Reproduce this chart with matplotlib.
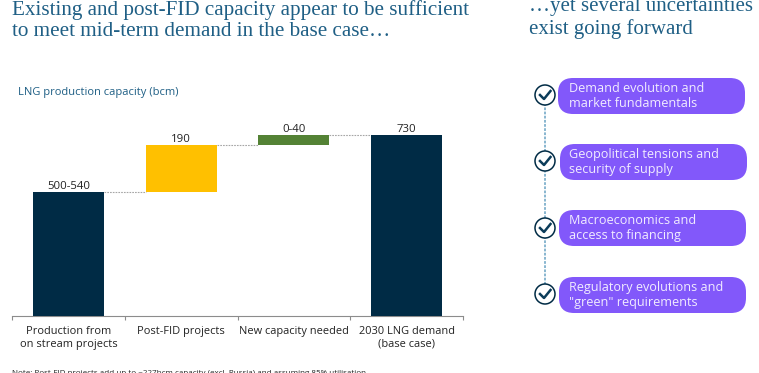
# LNG capacity waterfall with the uncertainties list on the right
import matplotlib
matplotlib.use("Agg")
import matplotlib.pyplot as plt
from matplotlib.patches import FancyBboxPatch, Circle

categories = ["Production from\non stream projects", "Post-FID projects",
              "New capacity needed", "2030 LNG demand\n(base case)"]
bottoms = [0, 500, 690, 0]
heights = [500, 190, 40, 730]
bar_labels = ["500-540", "190", "0-40", "730"]
bar_colors = ["#002B45", "#FFC000", "#548235", "#002B45"]

uncertainties = ["Demand evolution and\nmarket fundamentals",
                 "Geopolitical tensions and\nsecurity of supply",
                 "Macroeconomics and\naccess to financing",
                 "Regulatory evolutions and\n\"green\" requirements"]

title_left = "Existing and post-FID capacity appear to be sufficient\nto meet mid-term demand in the base case…"
title_right = "…yet several uncertainties\nexist going forward"
unit_label = "LNG production capacity (bcm)"
note = "Note: Post-FID projects add up to ~227bcm capacity (excl. Russia) and assuming 85% utilisation"

W, H = 759, 373
TITLE_BLUE = "#1F5F85"
PURPLE = "#8258FA"
DARK = "#002B45"
SANS = "Open Sans"
SERIF = "Liberation Serif"

fig = plt.figure(figsize=(W / 100, H / 100), dpi=100, facecolor="white")

# overlay in pixel coordinates for everything outside the bars
bg = fig.add_axes([0, 0, 1, 1])
bg.set_xlim(0, W)
bg.set_ylim(H, 0)
bg.axis("off")

# waterfall
ax = fig.add_axes([12 / W, (H - 316) / H, 451 / W, 196 / H])
xs = range(len(categories))
ax.bar(xs, heights, bottom=bottoms, width=0.63, color=bar_colors, zorder=3)
ax.set_xlim(-0.5, 3.5)
ax.set_ylim(0, 730 * 196 / 181)

for i in xs:
    top = bottoms[i] + heights[i]
    ax.text(i, top + 1, bar_labels[i], ha="center", va="bottom",
            fontsize=8.2, family=SANS, color="#222222")
    # dotted connector to the next bar
    if i < len(categories) - 1:
        ax.plot([i + 0.315, i + 1 - 0.315], [top, top], color="#A6A6A6",
                lw=0.8, ls=(0, (1.5, 1)), zorder=2)

ax.patch.set_alpha(0)
for side in ["top", "left", "right"]:
    ax.spines[side].set_visible(False)
ax.spines["bottom"].set_color("#8C8C8C")
ax.spines["bottom"].set_linewidth(0.8)
ax.set_yticks([])
ax.set_xticks([-0.5, 0.5, 1.5, 2.5, 3.5])
ax.set_xticklabels([])
ax.tick_params(axis="x", direction="out", length=3, color="#8C8C8C", width=0.8)
ax.set_xticks(list(xs), minor=True)
ax.set_xticklabels(categories, minor=True, fontsize=7.9, family=SANS, color="#222222", linespacing=1.15)
ax.tick_params(axis="x", which="minor", length=0, pad=7.5)

# titles and small texts
bg.text(12, 36.5, title_left, fontsize=15.2, family=SERIF, color=TITLE_BLUE,
        linespacing=1.17, va="baseline")
bg.text(529, 34, title_right, fontsize=15, family=SERIF, color=TITLE_BLUE,
        linespacing=1.22, va="baseline")
bg.text(18, 92.5, unit_label, fontsize=8, family=SANS, color=TITLE_BLUE, va="center")
bg.text(12, 373.5, note, fontsize=5.78, family=SANS, color="#222222", va="center")

# right hand list
pill_tops = [78, 144, 210, 277]
pill_lefts = [558, 560, 559, 559]
circle_ys = [95, 161, 228, 294]
bg.plot([545, 545], [circle_ys[0], circle_ys[-1]], color="#7FB0CC", lw=1.3, ls=(0, (1.5, 0.8)), zorder=1)

for text, top, left, cy in zip(uncertainties, pill_tops, pill_lefts, circle_ys):
    pill = FancyBboxPatch((left, top), 187, 36, boxstyle="round,pad=0,rounding_size=15",
                          facecolor=PURPLE, edgecolor="none", zorder=2)
    bg.add_patch(pill)
    bg.text(569, top + 18, text, fontsize=9.05, family=SANS, color="#F1ECFF",
            va="center", ha="left", linespacing=1.17, zorder=3)
    bg.add_patch(Circle((545, cy), 10, facecolor="white", edgecolor=DARK, lw=1.1, zorder=2))
    # tick mark
    bg.plot([540, 544, 550.5], [cy, cy + 4, cy - 4], color="#0B3C5A", lw=1.8, zorder=3)

fig.savefig("out.png", dpi=100)
